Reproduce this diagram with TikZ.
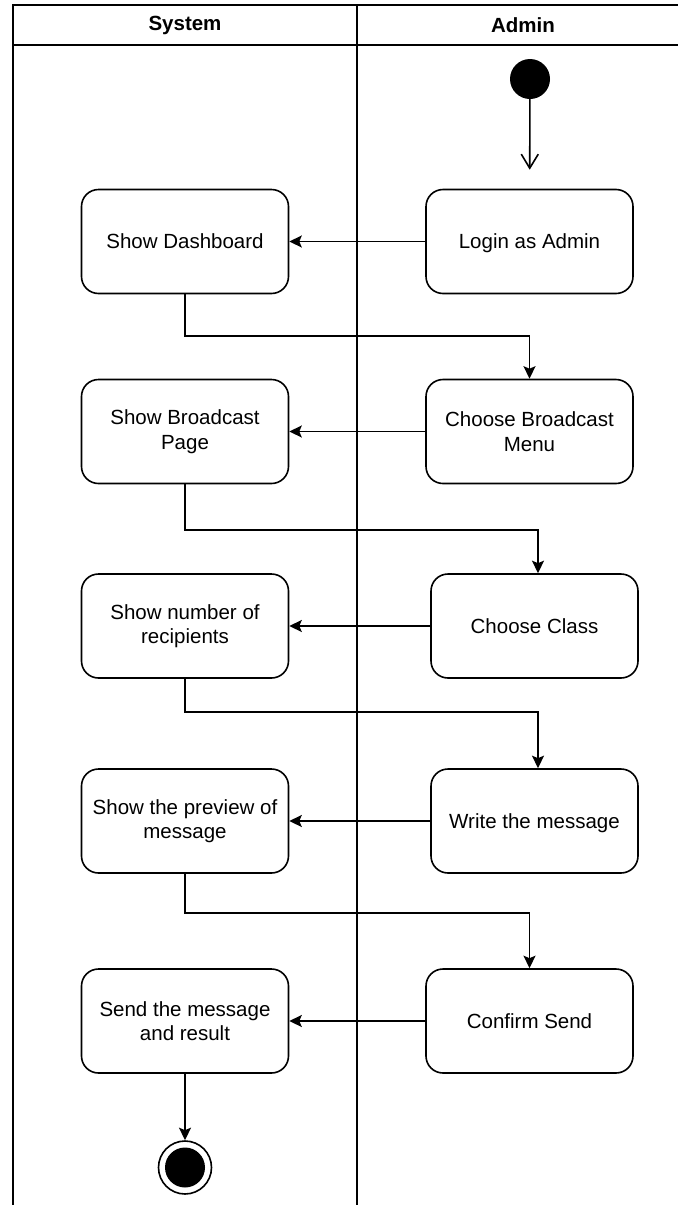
\documentclass[tikz,border=0pt]{standalone}
\usepackage{fontspec}
\setmainfont{Liberation Sans}
\usetikzlibrary{arrows.meta}
\begin{document}
\begin{tikzpicture}[x=1pt,y=-1pt,
  act/.style={draw, line width=1.6pt, rounded corners=17pt,
    minimum width=207pt, minimum height=104pt, inner sep=0pt,
    align=center, font=\fontsize{20.5}{24.6}\selectfont},
  oneline/.style={text height=14.7pt, text depth=0pt},
  flow/.style={line width=1.6pt, -{Stealth[length=12.5pt,width=12pt,inset=2.5pt]}},
  lane/.style={line width=2pt},
  lanehead/.style={font=\fontsize{20.5}{24.6}\selectfont\bfseries}]
\useasboundingbox (0,0) rectangle (678,1205);

% swimlane frame
\draw[lane] (12.5,1205) -- (12.5,5.3) -- (678,5.3);
\draw[lane] (12.5,44.7) -- (678,44.7);
\draw[lane] (357,5.3) -- (357,1205);
\node[lanehead] (hsys) at (185,25) {System};
\node[lanehead] (hadm) at (523,25) {Admin};

% activities
\node[act,oneline] (login)   at (529.5,241.5) {Login as Admin};
\node[act,oneline] (dash)    at (185,241.5)   {Show Dashboard};
\node[act] (menu)    at (529.5,431.5) {Choose Broadcast\\Menu};
\node[act] (bpage)   at (185,431.5)   {Show Broadcast\\Page};
\node[act,oneline] (class)   at (534.5,626)   {Choose Class};
\node[act] (recip)   at (185,626)     {Show number of\\recipients};
\node[act,oneline] (write)   at (534.5,821)   {Write the message};
\node[act] (preview) at (185,821)     {Show the preview of\\message};
\node[act,oneline] (confirm) at (529.5,1021)  {Confirm Send};
\node[act] (send)    at (185,1021)    {Send the message\\and result};

% initial and final states
\node[circle, fill, minimum size=40pt, inner sep=0pt] (start) at (530,79) {};
\node[circle, draw, line width=1.6pt, minimum size=53pt, inner sep=0pt] (stop) at (185,1167.5) {};
\fill (stop.center) circle (20);

% bend points of the cross-lane connectors
\coordinate (k1) at (357,336);
\coordinate (k2) at (357,530);
\coordinate (k3) at (357,712);
\coordinate (k4) at (357,913);

% control flow
\draw[line width=1.6pt, -{Straight Barb[length=14pt,width=17pt]}, shorten >=19pt] (start) -- (login);
\draw[flow] (login) -- (dash);
\draw[flow] (dash.south) |- (k1) -| (menu.north);
\draw[flow] (menu) -- (bpage);
\draw[flow] (bpage.south) |- (k2) -| ([xshift=3.5pt]class.north);
\draw[flow] (class) -- (recip);
\draw[flow] (recip.south) |- (k3) -| ([xshift=3.5pt]write.north);
\draw[flow] (write) -- (preview);
\draw[flow] (preview.south) |- (k4) -| (confirm.north);
\draw[flow] (confirm) -- (send);
\draw[flow] (send) -- (stop);
\end{tikzpicture}
\end{document}
